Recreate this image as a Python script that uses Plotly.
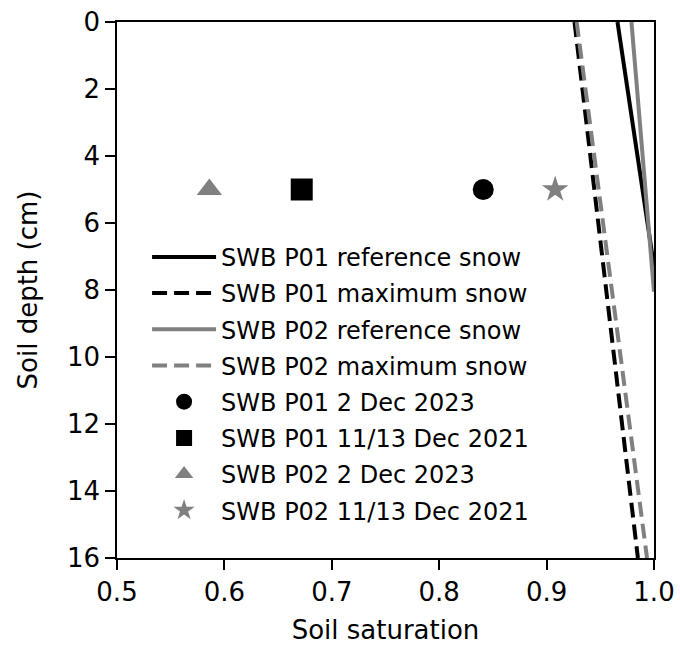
import plotly.graph_objects as go

# Profile lines (soil saturation vs depth)
p01_ref_sat = [0.966, 1.0]
p01_ref_depth = [0.0, 7.3]
p01_max_sat = [0.926, 0.985]
p01_max_depth = [0.0, 16.0]
p02_ref_sat = [0.979, 1.0]
p02_ref_depth = [0.0, 8.05]
p02_max_sat = [0.928, 0.9935]
p02_max_depth = [0.0, 16.0]

# Point observations
obs_names = ["SWB P01 2 Dec 2023", "SWB P01 11/13 Dec 2021",
             "SWB P02 2 Dec 2023", "SWB P02 11/13 Dec 2021"]
obs_sat = [0.841, 0.672, 0.586, 0.908]
obs_depth = [5, 5, 5, 5]

x_ticks = [0.5, 0.6, 0.7, 0.8, 0.9, 1.0]
y_ticks = [0, 2, 4, 6, 8, 10, 12, 14, 16]

GREY = "#808080"
FONT = "DejaVu Sans"

fig = go.Figure()
lines = [
    ("SWB P01 reference snow", p01_ref_sat, p01_ref_depth, "black", "solid"),
    ("SWB P01 maximum snow", p01_max_sat, p01_max_depth, "black", "15px,7px"),
    ("SWB P02 reference snow", p02_ref_sat, p02_ref_depth, GREY, "solid"),
    ("SWB P02 maximum snow", p02_max_sat, p02_max_depth, GREY, "15px,7px"),
]
for i, (name, xs, ys, col, dash) in enumerate(lines):
    fig.add_trace(go.Scatter(x=xs, y=ys, mode="lines", name=name,
                             line=dict(color=col, width=4, dash=dash),
                             legendgroup=f"g{i}", cliponaxis=True))

symbols = ["circle", "square", "triangle-up", "star"]
colors = ["black", "black", GREY, GREY]
sizes = [21, 22, 22, 20]
for j in range(4):
    fig.add_trace(go.Scatter(x=[obs_sat[j]], y=[obs_depth[j]], mode="markers",
                             name=obs_names[j], legendgroup=f"m{j}",
                             marker=dict(symbol=symbols[j], color=colors[j],
                                         size=sizes[j], line=dict(width=0))))

axis_common = dict(showgrid=False, zeroline=False, showline=True, linecolor="black",
                   linewidth=1.5, mirror=True, ticks="outside", ticklen=10,
                   tickwidth=1.5, tickcolor="black", automargin=False,
                   tickfont=dict(family=FONT, size=26, color="black"))

fig.update_layout(
    width=680, height=650,
    margin=dict(l=117, r=26, t=22, b=92),
    paper_bgcolor="white", plot_bgcolor="white",
    font=dict(family=FONT, color="black"),
    showlegend=True,
    legend=dict(x=0.056, y=0.603, xanchor="left", yanchor="top",
                bgcolor="rgba(0,0,0,0)", borderwidth=0,
                font=dict(family=FONT, size=24, color="black"),
                itemwidth=64, traceorder="grouped", tracegroupgap=2),
    xaxis=dict(range=[0.5, 1.0], tickvals=x_ticks,
               ticktext=[f"{v:.1f}" for v in x_ticks],
               title=dict(text="Soil saturation", font=dict(family=FONT, size=26)),
               **axis_common),
    yaxis=dict(range=[16, 0], tickvals=y_ticks,
               title=dict(text="Soil depth (cm)", font=dict(family=FONT, size=26), standoff=22),
               **axis_common),
)

fig.write_html("out.html", config={"displayModeBar": False},
               post_script="document.body.style.margin='0px';document.body.style.overflow='hidden';")
